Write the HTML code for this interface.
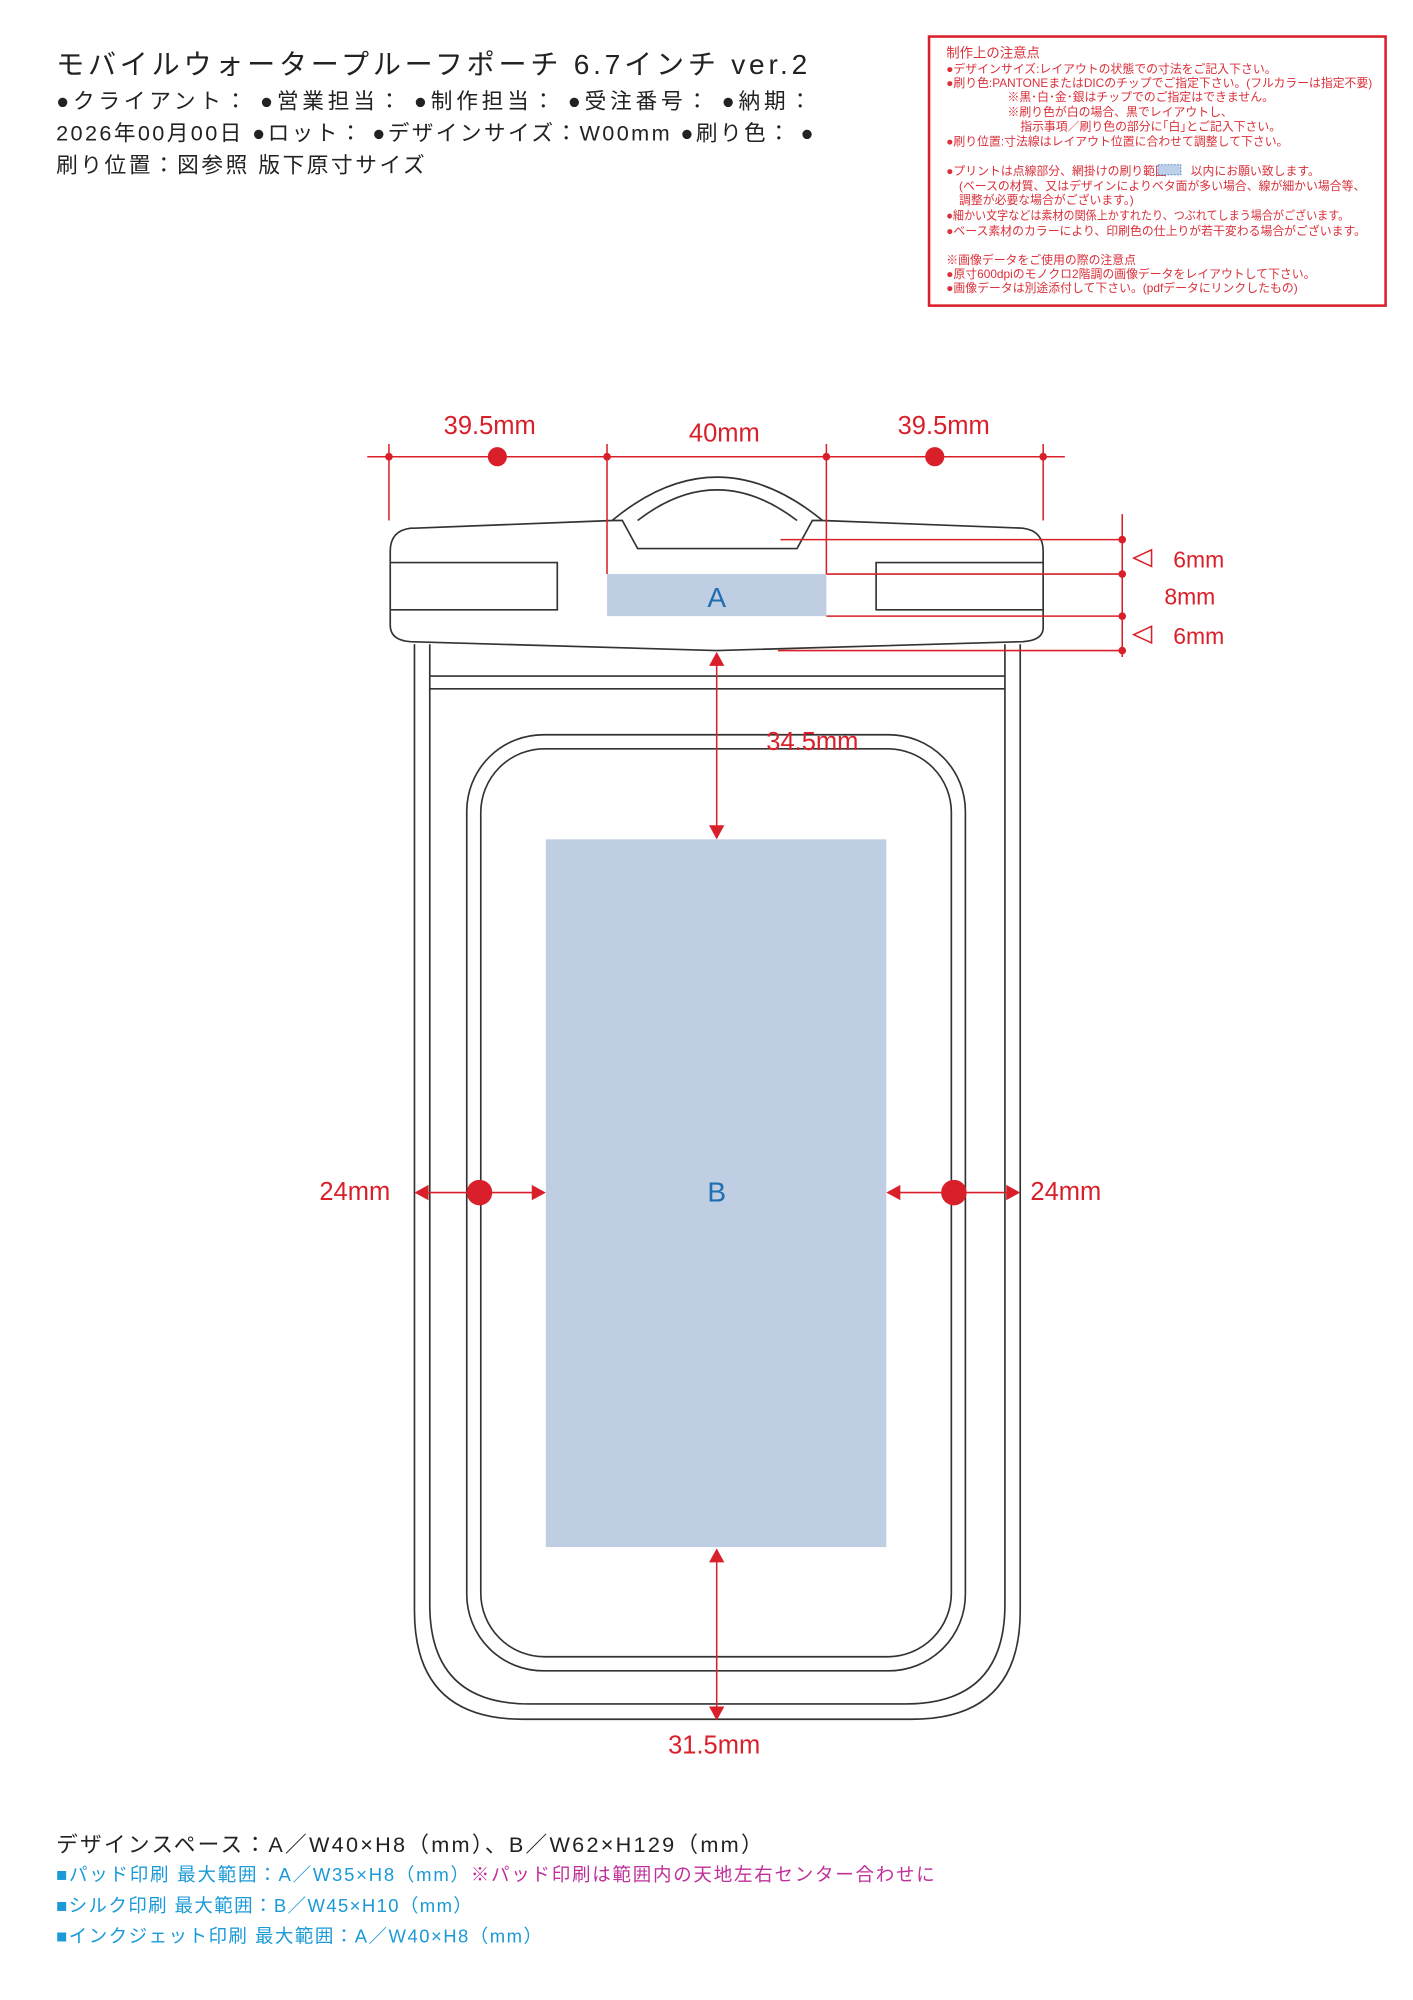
<!DOCTYPE html>
<html><head><meta charset="utf-8"><style>
html,body{margin:0;padding:0;background:#fff;}
svg{display:block;}
text{font-family:"Liberation Sans","Noto Sans CJK JP",sans-serif;}
</style></head><body>
<svg width="1413" height="2000" viewBox="0 0 1108 1568" xmlns="http://www.w3.org/2000/svg">
<!-- header text -->
<text x="44" y="58" font-size="22" fill="#222" textLength="589" lengthAdjust="spacing">モバイルウォータープルーフポーチ 6.7インチ ver.2</text>
<text x="44" y="85" font-size="17" fill="#222" textLength="592" lengthAdjust="spacing">●クライアント： ●営業担当： ●制作担当： ●受注番号： ●納期：</text>
<text x="44" y="110" font-size="17" fill="#222" textLength="594" lengthAdjust="spacing">2026年00月00日 ●ロット： ●デザインサイズ：W00mm ●刷り色： ●</text>
<text x="44" y="135" font-size="17" fill="#222" textLength="289" lengthAdjust="spacing">刷り位置：図参照 版下原寸サイズ</text>

<!-- notice box -->
<rect x="728.5" y="28.5" width="358" height="211" fill="none" stroke="#d9202a" stroke-width="2"/>
<g font-size="9.3" fill="#d9303a">
<text x="742" y="45" font-size="10.5">制作上の注意点</text>
<text x="742" y="57">●デザインサイズ:レイアウトの状態での寸法をご記入下さい。</text>
<text x="742" y="68" textLength="334" lengthAdjust="spacingAndGlyphs">●刷り色:PANTONEまたはDICのチップでご指定下さい。(フルカラーは指定不要)</text>
<text x="790" y="79">※黒･白･金･銀はチップでのご指定はできません。</text>
<text x="790" y="91">※刷り色が白の場合、黒でレイアウトし、</text>
<text x="800" y="102">指示事項／刷り色の部分に｢白｣とご記入下さい。</text>
<text x="742" y="114">●刷り位置:寸法線はレイアウト位置に合わせて調整して下さい。</text>
<text x="742" y="137">●プリントは点線部分、網掛けの刷り範囲<tspan fill="#fff">＿＿</tspan>以内にお願い致します。</text>
<text x="752" y="149">(ベースの材質、又はデザインによりベタ面が多い場合、線が細かい場合等、</text>
<text x="752" y="160">調整が必要な場合がございます。)</text>
<text x="742" y="172" textLength="316" lengthAdjust="spacingAndGlyphs">●細かい文字などは素材の関係上かすれたり、つぶれてしまう場合がございます。</text>
<text x="742" y="184">●ベース素材のカラーにより、印刷色の仕上りが若干変わる場合がございます。</text>
<text x="742" y="207">※画像データをご使用の際の注意点</text>
<text x="742" y="218">●原寸600dpiのモノクロ2階調の画像データをレイアウトして下さい。</text>
<text x="742" y="229">●画像データは別途添付して下さい。(pdfデータにリンクしたもの)</text>
</g>
<rect x="908" y="129" width="18" height="8" fill="#bcd0ea" stroke="#3a7ab8" stroke-width="0.6" stroke-dasharray="1.5 1"/>

<!-- pouch drawing -->
<g fill="none" stroke="#333" stroke-width="1.3">
<path d="M325 505 L325 1263 Q325 1348 410 1348 L715 1348 Q800 1348 800 1263 L800 505"/>
<path d="M337 505 L337 1258 Q337 1336 415 1336 L710 1336 Q788 1336 788 1258 L788 505"/>
<line x1="337" y1="530" x2="788" y2="530"/>
<line x1="337" y1="540" x2="788" y2="540"/>
<rect x="366" y="576" width="391" height="734" rx="60"/>
<rect x="377" y="587" width="369" height="712" rx="50"/>
<path d="M325 414 L480 408 Q562 340 645 408 L802 414 Q818 416 818 432 L818 492 Q818 502 802 503 L562 510 L322 503 Q306 502 306 490 L306 432 Q306 416 322 414 Z" fill="#fff"/>
<path d="M480 408 L488 408 L500 430 L625 430 L637 408 L645 408"/>
<path d="M500 408 Q562 360 625 408"/>
<path d="M306 441 L437 441 L437 478 L306 478"/>
<path d="M818 441 L687 441 L687 478 L818 478"/>
</g>
<rect x="476" y="450" width="172" height="33" fill="#c0cee4"/>
<text x="562" y="476" font-size="22" fill="#1f6fb0" text-anchor="middle">A</text>
<rect x="428" y="658" width="267" height="555" fill="#c0cee4"/>
<text x="562" y="942" font-size="22" fill="#1f6fb0" text-anchor="middle">B</text>

<!-- red dimensions -->
<g stroke="#d9202a" stroke-width="1.2" fill="none">
<line x1="288" y1="358" x2="835" y2="358"/>
<line x1="305" y1="348" x2="305" y2="408"/>
<line x1="476" y1="348" x2="476" y2="450"/>
<line x1="648" y1="348" x2="648" y2="450"/>
<line x1="818" y1="348" x2="818" y2="408"/>
<line x1="880" y1="403" x2="880" y2="515"/>
<line x1="612" y1="423" x2="880" y2="423"/>
<line x1="648" y1="450" x2="880" y2="450"/>
<line x1="648" y1="483" x2="880" y2="483"/>
<line x1="610" y1="510" x2="880" y2="510"/>
<line x1="562" y1="520" x2="562" y2="648"/>
<line x1="562" y1="1224" x2="562" y2="1340"/>
<line x1="334" y1="935" x2="419" y2="935"/>
<line x1="705" y1="935" x2="791" y2="935"/>
<path d="M903 431 L889 437.5 L903 444 Z"/>
<path d="M903 491 L889 497.5 L903 504 Z"/>
</g>
<g fill="#d9202a">
<circle cx="305" cy="358" r="3"/><circle cx="476" cy="358" r="3"/><circle cx="648" cy="358" r="3"/><circle cx="818" cy="358" r="3"/>
<circle cx="390" cy="358" r="7.5"/><circle cx="733" cy="358" r="7.5"/>
<circle cx="880" cy="423" r="3"/><circle cx="880" cy="450" r="3"/><circle cx="880" cy="483" r="3"/><circle cx="880" cy="510" r="3"/>
<circle cx="376" cy="935" r="10"/><circle cx="748" cy="935" r="10"/>
<path d="M562 511 L556 522 L568 522 Z"/>
<path d="M562 658 L556 647 L568 647 Z"/>
<path d="M562 1214 L556 1225 L568 1225 Z"/>
<path d="M562 1349 L556 1338 L568 1338 Z"/>
<path d="M325 935 L336 929 L336 941 Z"/>
<path d="M428 935 L417 929 L417 941 Z"/>
<path d="M695 935 L706 929 L706 941 Z"/>
<path d="M800 935 L789 929 L789 941 Z"/>
</g>
<g fill="#d9202a" font-size="20">
<text x="384" y="340" text-anchor="middle">39.5mm</text>
<text x="568" y="346" text-anchor="middle">40mm</text>
<text x="740" y="340" text-anchor="middle">39.5mm</text>
<text x="920" y="445" font-size="18">6mm</text>
<text x="913" y="474" font-size="18">8mm</text>
<text x="920" y="505" font-size="18">6mm</text>
<text x="637" y="588" text-anchor="middle">34.5mm</text>
<text x="560" y="1375" text-anchor="middle">31.5mm</text>
<text x="306" y="941" text-anchor="end">24mm</text>
<text x="808" y="941">24mm</text>
</g>

<!-- footer -->
<text x="44" y="1452" font-size="17" fill="#222" textLength="554" lengthAdjust="spacing">デザインスペース：A／W40×H8（mm）、B／W62×H129（mm）</text>
<text x="44" y="1475" font-size="14.5" fill="#1a9ad6" textLength="689" lengthAdjust="spacing">■パッド印刷 最大範囲：A／W35×H8（mm）<tspan fill="#c0309a">※パッド印刷は範囲内の天地左右センター合わせに</tspan></text>
<text x="44" y="1499" font-size="14.5" fill="#1a9ad6" textLength="326" lengthAdjust="spacing">■シルク印刷 最大範囲：B／W45×H10（mm）</text>
<text x="44" y="1523" font-size="14.5" fill="#1a9ad6" textLength="381" lengthAdjust="spacing">■インクジェット印刷 最大範囲：A／W40×H8（mm）</text>
</svg>
</body></html>
